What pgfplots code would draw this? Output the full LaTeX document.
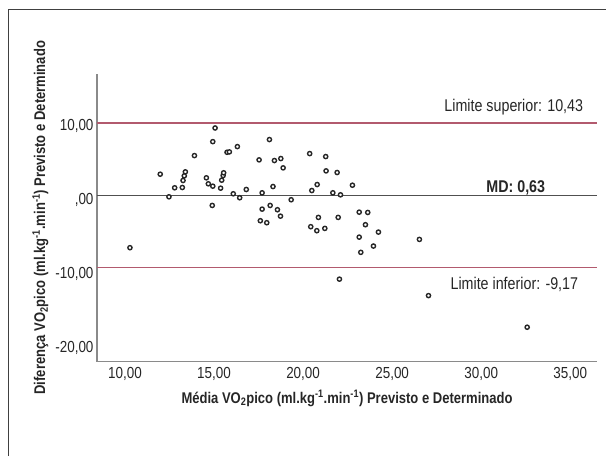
\documentclass[border=0pt]{standalone}
\usepackage{fontspec}
\setmainfont{Liberation Sans}[FakeStretch=0.84]
\usepackage{pgfplots}
\pgfplotsset{compat=1.18}
\definecolor{limcol}{HTML}{B25A6E}
\definecolor{mdcol}{HTML}{505050}
\definecolor{axcol}{HTML}{8A8A8A}
\begin{document}
\begin{tikzpicture}
\path[use as bounding box] (0pt,0pt) rectangle (606pt,456pt);
\draw[line width=1pt, color=black!75] (8.5pt,0pt) -- (8.5pt,446pt) -- (606pt,446pt);
\begin{axis}[
  at={(97pt,94.3pt)}, anchor=south west,
  scale only axis, width=500pt, height=288pt,
  xmin=8.43, xmax=36.5, ymin=-21.9, ymax=17.1,
  axis x line*=bottom, axis y line*=left,
  axis line style={draw=axcol, line width=1.1pt, -},
  xtick={10,15,20,25,30,35},
  xticklabels={{10,00},{15,00},{20,00},{25,00},{30,00},{35,00}},
  ytick={-20,-10,0,10},
  yticklabels={{-20,00},{-10,00},{,00},{10,00}},
  major tick length=0pt,
  tick label style={font=\fontsize{16}{18}\selectfont, color=black!85},
  xticklabel style={yshift=-2pt},
  xlabel={\bfseries Média VO\textsubscript{2}pico (ml.kg\textsuperscript{-1}.min\textsuperscript{-1}) Previsto e Determinado},
  ylabel={\bfseries Diferença VO\textsubscript{2}pico (ml.kg\textsuperscript{-1}.min\textsuperscript{-1}) Previsto e Determinado},
  label style={font=\fontsize{15.5}{18}\selectfont, color=black!85},
  xlabel style={yshift=-3pt},
  clip=false,
]
\addplot[limcol, line width=1.5pt] coordinates {(8.43,10.43) (36.5,10.43)};
\addplot[limcol, line width=1.5pt] coordinates {(8.43,-9.17) (36.5,-9.17)};
\addplot[mdcol, line width=1.5pt] coordinates {(8.43,0.63) (36.5,0.63)};
\addplot[only marks, mark=*, mark size=2.1pt, mark options={draw=black!85, line width=1.4pt, fill=white}] coordinates {
(10.28,-6.46) (11.98,3.49) (12.47,0.43) (12.79,1.65) (13.22,1.69) (13.26,2.64)
(13.33,3.27) (13.39,3.81) (13.90,6.01) (14.57,3.00) (14.68,2.19) (14.93,1.87)
(14.90,-0.74) (14.93,7.90) (15.06,9.75) (15.37,1.60) (15.43,2.68) (15.51,3.31)
(15.54,3.68) (15.73,6.46) (15.86,6.51) (16.08,0.84) (16.31,7.23) (16.44,0.30)
(16.81,1.42) (17.53,5.43) (17.60,-2.81) (17.70,0.97) (17.70,-1.24) (17.96,-3.08)
(18.11,8.18) (18.15,-0.74) (18.31,1.82) (18.39,5.34) (18.56,-1.32) (18.73,-2.19)
(18.75,5.61) (18.88,4.35) (19.33,0.03) (20.37,6.28) (20.43,-3.62) (20.49,1.28)
(20.77,-4.16) (20.79,2.09) (20.86,-2.36) (21.22,-3.85) (21.27,5.88) (21.29,3.94)
(21.67,0.97) (21.91,3.72) (21.97,-2.36) (22.10,0.70) (22.04,-10.72) (22.77,2.00)
(23.15,-1.65) (23.63,-1.69) (23.50,-3.35) (24.23,-4.35) (23.15,-5.03) (23.95,-6.24)
(23.24,-7.09) (26.53,-5.34) (27.04,-12.95) (32.58,-17.23)
};
\node[anchor=east, inner sep=0pt, font=\fontsize{17}{19}\selectfont, color=black!85] at (axis cs:35.73,12.54) {Limite superior: 10,43};
\node[anchor=east, inner sep=0pt, font=\fontsize{17}{19}\selectfont\bfseries, color=black!85] at (axis cs:33.6,1.69) {MD: 0,63};
\node[anchor=east, inner sep=0pt, font=\fontsize{17}{19}\selectfont, color=black!85] at (axis cs:35.45,-11.42) {Limite inferior: -9,17};
\end{axis}
\end{tikzpicture}
\end{document}
